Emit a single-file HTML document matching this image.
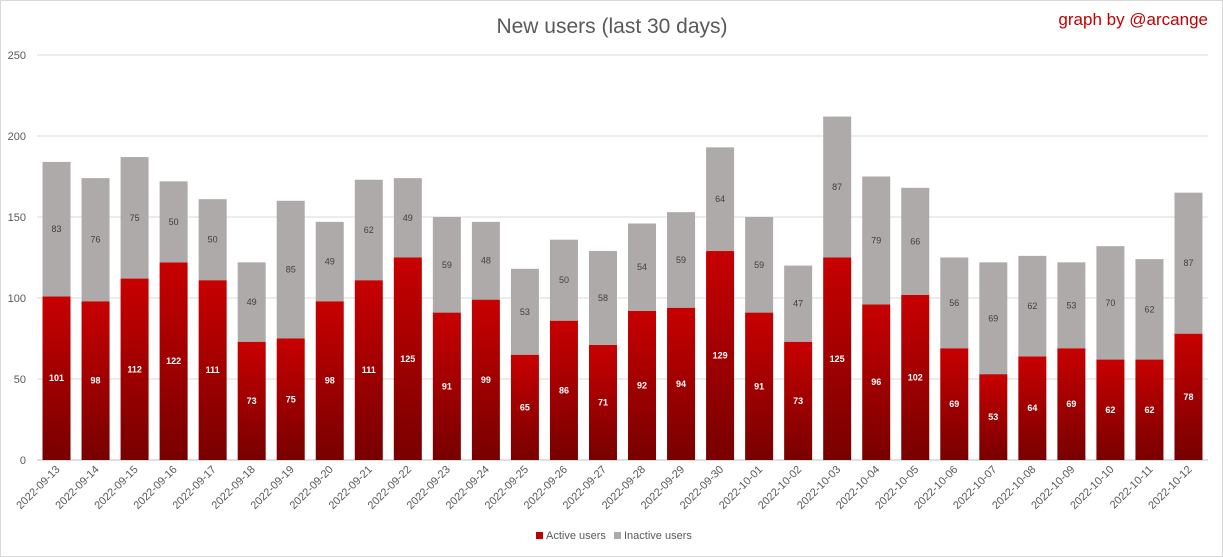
<!DOCTYPE html>
<html><head><meta charset="utf-8"><style>
body{margin:0;background:#fff;}
svg{display:block;font-family:"Liberation Sans",sans-serif;}
</style></head><body>
<svg id="chart" width="1223" height="557" viewBox="0 0 1223 557">
<defs>
<linearGradient id="redgrad" x1="0" y1="0" x2="0" y2="1">
<stop offset="0" stop-color="#c80000"/><stop offset="1" stop-color="#780000"/>
</linearGradient>
</defs>
<rect x="0.5" y="0.5" width="1222" height="556" fill="#fff" stroke="#d9d9d9"/>
<text x="612" y="33" text-anchor="middle" font-size="21" fill="#595959">New users (last 30 days)</text>
<text x="1208" y="25" text-anchor="end" font-size="17" fill="#c00000">graph by @arcange</text>
<g id="grid"></g>
<g id="bars"></g>
<g id="xlabels"></g>
<g>
<rect x="536" y="532" width="7" height="7" fill="#c00000"/>
<text x="546" y="539" font-size="11" fill="#595959">Active users</text>
<rect x="614" y="532" width="7" height="7" fill="#aeaaaa"/>
<text x="624" y="539" font-size="11" fill="#595959">Inactive users</text>
</g>
</svg>
<script>
const categories=["2022-09-13","2022-09-14","2022-09-15","2022-09-16","2022-09-17","2022-09-18","2022-09-19","2022-09-20","2022-09-21","2022-09-22","2022-09-23","2022-09-24","2022-09-25","2022-09-26","2022-09-27","2022-09-28","2022-09-29","2022-09-30","2022-10-01","2022-10-02","2022-10-03","2022-10-04","2022-10-05","2022-10-06","2022-10-07","2022-10-08","2022-10-09","2022-10-10","2022-10-11","2022-10-12"];
const activeUsers=[101,98,112,122,111,73,75,98,111,125,91,99,65,86,71,92,94,129,91,73,125,96,102,69,53,64,69,62,62,78];
const inactiveUsers=[83,76,75,50,50,49,85,49,62,49,59,48,53,50,58,54,59,64,59,47,87,79,66,56,69,62,53,70,62,87];
const yTicks=[0,50,100,150,200,250];

const NS="http://www.w3.org/2000/svg";
const X0=37,X1=1208,Y0=460,Y1=55,YMAX=250;
const step=(X1-X0)/categories.length, bw=28;
const y=v=>Y0-(v/YMAX)*(Y0-Y1);
const xc=i=>X0+step*(i+0.5);
function mk(tag,attrs,parent){const e=document.createElementNS(NS,tag);for(const k in attrs)e.setAttribute(k,attrs[k]);parent.appendChild(e);return e;}
const grid=document.getElementById('grid'),bars=document.getElementById('bars'),xl=document.getElementById('xlabels');
yTicks.forEach(t=>{
  const l=mk('line',{x1:X0,x2:X1,y1:y(t),y2:y(t),stroke:t===0?'#bfbfbf':'#d9d9d9','stroke-width':1},grid);
  
  
  const tx=mk('text',{x:26,y:y(t)+4,'text-anchor':'end','font-size':11,fill:'#595959'},grid);
  tx.textContent=t;
  
  
});
categories.forEach((c,i)=>{
  const a=activeUsers[i],b=inactiveUsers[i],cx=xc(i);
  const r=mk('rect',{x:cx-bw/2,y:y(a),width:bw,height:Y0-y(a),fill:'url(#redgrad)'},bars);
  
  
  const g=mk('rect',{x:cx-bw/2,y:y(a+b),width:bw,height:y(a)-y(a+b),fill:'#aeaaaa'},bars);
  
  
  const ta=mk('text',{x:cx,y:y(a/2)+3,'text-anchor':'middle','font-size':9,'font-weight':'bold',fill:'#fff'},bars);
  ta.textContent=a;
  
  
  const tb=mk('text',{x:cx,y:y(a+b/2)+3,'text-anchor':'middle','font-size':9,fill:'#404040'},bars);
  tb.textContent=b;
  
  
  const lx=cx+4,ly=470;
  const t=mk('text',{x:lx,y:ly,'text-anchor':'end','font-size':11,fill:'#595959',transform:`rotate(-45 ${lx} ${ly})`},xl);
  t.textContent=c;
  
  
});
</script>
</body></html>
